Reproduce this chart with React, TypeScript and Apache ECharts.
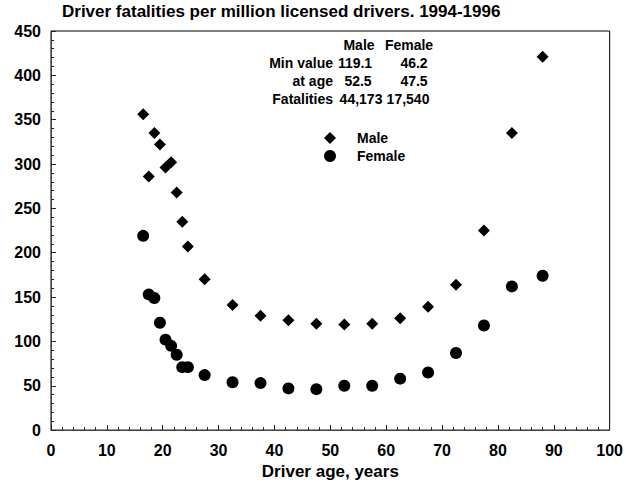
import React, { useEffect, useRef } from "react";
import * as echarts from "echarts";

const ages = [16.5, 17.5, 18.5, 19.5, 20.5, 21.5, 22.5, 23.5, 24.5, 27.5, 32.5, 37.5, 42.5, 47.5, 52.5, 57.5, 62.5, 67.5, 72.5, 77.5, 82.5, 88];
const maleRates = [356, 286, 335, 322, 296, 302, 268, 235, 207, 170, 141, 129, 124, 120, 119.1, 120, 126, 139, 164, 225, 335, 421];
const femaleRates = [219, 153, 149, 121, 102, 95, 85, 71, 71, 62, 54, 53, 47, 46.2, 50, 50, 58, 65, 87, 118, 162, 174];

const tableHeader = ["Male", "Female"];
const tableLabels = ["Min value", "at age", "Fatalities"];
const tableMale = ["119.1", "52.5", "44,173"];
const tableFemale = ["46.2", "47.5", "17,540"];

// layout (pixel positions of the annotation block, not data)
const headerX = [359, 409];
const maleX = [355, 358, 361];
const femaleX = [414, 414, 408];
const rowsY = [45, 63, 81, 99];

const FONT = '"Liberation Sans", Arial, Helvetica, sans-serif';

export default function App() {
  const ref = useRef<HTMLDivElement>(null);
  useEffect(() => {
    document.body.style.margin = "0";
    const chart = echarts.init(ref.current!, undefined, { renderer: "svg" });
    const txt = (text: string, x: number, y: number, align: string) => ({
      type: "text",
      x,
      y,
      style: {
        text,
        fill: "#000",
        font: `bold 14px ${FONT}`,
        textAlign: align,
        textVerticalAlign: "middle",
      },
    });
    const graphics: any[] = [];
    tableHeader.forEach((h, i) => graphics.push(txt(h, headerX[i], rowsY[0], "center")));
    tableLabels.forEach((l, i) => {
      graphics.push(txt(l, 333, rowsY[i + 1], "right"));
      graphics.push(txt(tableMale[i], maleX[i], rowsY[i + 1], "center"));
      graphics.push(txt(tableFemale[i], femaleX[i], rowsY[i + 1], "center"));
    });
    const axisCommon = {
      axisLine: { show: true, lineStyle: { color: "#444", width: 1 } },
      axisTick: { show: true, inside: true, length: 5, lineStyle: { color: "#222" } },
      minorTick: { show: true, splitNumber: 5, length: 3, lineStyle: { color: "#222" } },
      splitLine: { show: false },
      axisLabel: { color: "#000", fontSize: 16, fontWeight: "bold", fontFamily: FONT },
    };
    chart.setOption({
      animation: false,
      backgroundColor: "#fff",
      title: {
        text: "Driver fatalities per million licensed drivers. 1994-1996",
        left: 62,
        top: 3,
        padding: 0,
        textStyle: { fontSize: 17, fontWeight: "bold", color: "#000", fontFamily: FONT },
      },
      grid: { left: 51, right: 16, top: 31, bottom: 53, show: true, borderColor: "#000", borderWidth: 1 },
      legend: {
        orient: "vertical",
        left: 324,
        top: 131,
        padding: 0,
        itemWidth: 12,
        itemHeight: 12,
        itemGap: 4,
        data: [
          { name: "Male", icon: "diamond" },
          { name: "Female", icon: "circle" },
        ],
        textStyle: { fontSize: 14, fontWeight: "bold", color: "#000", fontFamily: FONT, padding: [0, 0, 0, 16] },
      },
      xAxis: {
        type: "value",
        min: 0,
        max: 100,
        interval: 10,
        name: "Driver age, years",
        nameLocation: "middle",
        nameGap: 27,
        nameTextStyle: { fontSize: 17, fontWeight: "bold", color: "#000", fontFamily: FONT },
        ...axisCommon,
        axisLabel: { ...axisCommon.axisLabel, margin: 12 },
      },
      yAxis: {
        type: "value",
        min: 0,
        max: 450,
        interval: 50,
        ...axisCommon,
        axisLabel: { ...axisCommon.axisLabel, margin: 10 },
      },
      series: [
        {
          name: "Male",
          type: "scatter",
          symbol: "diamond",
          symbolSize: 12,
          itemStyle: { color: "#000", opacity: 1 },
          data: ages.map((a, i) => [a, maleRates[i]]),
        },
        {
          name: "Female",
          type: "scatter",
          symbol: "circle",
          symbolSize: 12,
          itemStyle: { color: "#000", opacity: 1 },
          data: ages.map((a, i) => [a, femaleRates[i]]),
        },
      ],
      graphic: graphics,
    });
    return () => chart.dispose();
  }, []);
  return <div ref={ref} style={{ width: 626, height: 485 }} />;
}
